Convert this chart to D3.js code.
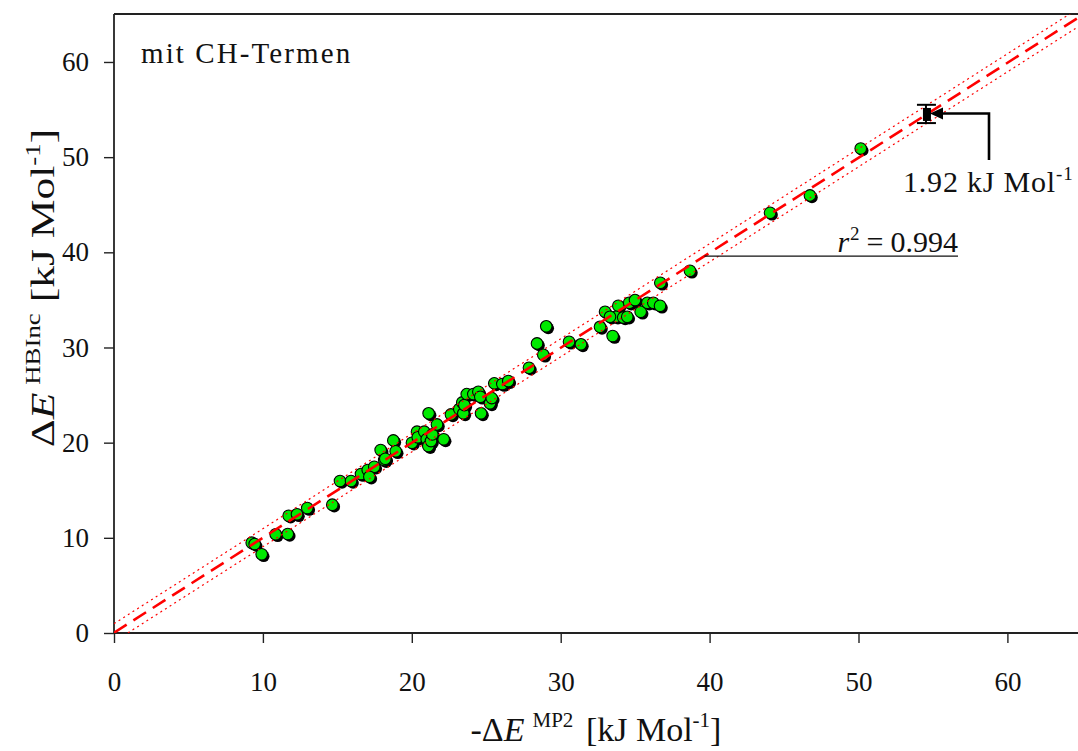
<!DOCTYPE html>
<html>
<head>
<meta charset="utf-8">
<script src="https://cdn.jsdelivr.net/npm/d3@7"></script>
<style>
  body { margin: 0; background: #fff; }
  text { font-family: "Liberation Serif", "DejaVu Serif", serif; fill: #111; }
</style>
</head>
<body>
<svg id="chart" width="1078" height="751"></svg>
<script>
// values
const mp2 = [ 9.25, 9.45, 9.92, 10.86, 11.67, 11.73, 12.29, 12.98, 14.66, 15.18,
    15.92, 16.59, 17.04, 17.48, 17.15, 18.15, 17.91, 18.22, 18.76, 18.92,
    20.01, 20.35, 20.4, 20.84, 21.0, 21.11, 21.29, 21.38, 21.13, 21.69,
    22.14, 22.63, 23.19, 23.46, 23.39, 23.53, 23.69, 24.13, 24.47, 24.6,
    25.25, 25.37, 24.65, 25.54, 26.08, 26.48, 27.87, 28.41, 28.83, 29.03,
    30.56, 31.36, 32.64, 33.49, 32.98, 33.87, 33.71, 34.2, 34.47, 34.6,
    34.99, 35.37, 35.82, 36.22, 36.67, 33.31, 36.69, 38.68, 44.06, 46.74, 50.15 ];
const hbinc = [ 9.49, 9.35, 8.27, 10.37, 10.4, 12.32, 12.47, 13.13, 13.48, 15.97,
    15.97, 16.7, 17.12, 17.47, 16.42, 18.17, 19.22, 18.31, 20.24, 19.09,
    19.99, 21.15, 20.56, 21.15, 20.35, 19.64, 20.17, 20.87, 23.08, 21.92,
    20.35, 22.97, 23.53, 23.08, 24.23, 23.95, 25.1, 25.1, 25.35, 24.82,
    24.13, 24.68, 23.08, 26.23, 26.16, 26.47, 27.87, 30.43, 29.23, 32.22,
    30.6, 30.33, 32.17, 31.2, 33.75, 34.38, 33.23, 33.16, 33.23, 34.7,
    34.98, 33.75, 34.7, 34.7, 34.38, 33.23, 36.8, 38.06, 44.15, 45.98, 50.91 ];

const xTicks = [ 0, 10, 20, 30, 40, 50, 60 ];
const yTicks = [ 0, 10, 20, 30, 40, 50, 60 ];

// fit line and its band
const fitSlope = 0.998, fitIntercept = 0.03, bandHalf = 0.95;
const fitRange = [ 0, 65 ];
const rSquared = '0.994';

// error bar example
const errX = 54.53, errY = 54.54, errHalf = 0.96;
const errLabel = '1.92 kJ Mol';

const svg = d3.select( '#chart' );
const mLeft = 114, mBottom = 633, mTop = 14;

const x = d3.scaleLinear().domain( [ 0, 65 ] ).range( [ mLeft, mLeft + 65 * 14.89 ] );
const y = d3.scaleLinear().domain( [ 0, 65 ] ).range( [ mBottom, mBottom - 65 * 9.517 ] );

svg.append( 'clipPath' ).attr( 'id', 'plot' )
    .append( 'rect' ).attr( 'x', mLeft ).attr( 'y', mTop ).attr( 'width', 1078 - mLeft ).attr( 'height', mBottom - mTop );

// axes
const xAxis = svg.append( 'g' )
    .attr( 'transform', 'translate(0,' + mBottom + ')' )
    .call( d3.axisBottom( x ).tickValues( xTicks ).tickSizeInner( 10 ).tickSizeOuter( 0 ).tickPadding( 29 ) );
const yAxis = svg.append( 'g' )
    .attr( 'transform', 'translate(' + mLeft + ',0)' )
    .call( d3.axisLeft( y ).tickValues( yTicks ).tickSizeInner( 10 ).tickSizeOuter( 0 ).tickPadding( 15 ) );

[ xAxis, yAxis ].forEach( a => {
    a.selectAll( 'text' ).style( 'font-family', '"Liberation Serif", serif' ).style( 'font-size', '27px' ).attr( 'fill', '#111' );
    a.selectAll( 'line' ).attr( 'stroke', '#222' ).attr( 'stroke-width', 1.4 );
    a.select( '.domain' ).attr( 'stroke', '#222' ).attr( 'stroke-width', 1.8 );
} );
xAxis.select( '.domain' ).attr( 'd', 'M' + mLeft + ',0H1078' );
yAxis.select( '.domain' ).attr( 'd', 'M0,' + mBottom + 'V' + mTop );

svg.append( 'line' )
    .attr( 'x1', mLeft ).attr( 'x2', 1078 ).attr( 'y1', mTop ).attr( 'y2', mTop )
    .attr( 'stroke', '#222' ).attr( 'stroke-width', 1.8 );

// points
const pts = d3.zip( mp2, hbinc );
const g = svg.append( 'g' ).attr( 'clip-path', 'url(#plot)' );

g.selectAll( '.shadow' ).data( pts ).enter().append( 'circle' )
    .attr( 'class', 'shadow' )
    .attr( 'cx', d => x( d[ 0 ] ) + 2 ).attr( 'cy', d => y( d[ 1 ] ) + 2 )
    .attr( 'r', 5.8 ).attr( 'fill', '#000' );
g.selectAll( '.pt' ).data( pts ).enter().append( 'circle' )
    .attr( 'class', 'pt' )
    .attr( 'cx', d => x( d[ 0 ] ) ).attr( 'cy', d => y( d[ 1 ] ) )
    .attr( 'r', 5.8 ).attr( 'fill', '#00ea00' ).attr( 'stroke', '#000' ).attr( 'stroke-width', 1.1 );

// regression line + band
const fitLine = d3.line().x( d => x( d[ 0 ] ) ).y( d => y( d[ 1 ] ) );
const fitPts = off => fitRange.map( v => [ v, fitSlope * v + fitIntercept + off ] );

[ bandHalf, -bandHalf ].forEach( off => {
    g.append( 'path' ).attr( 'd', fitLine( fitPts( off ) ) )
        .attr( 'fill', 'none' ).attr( 'stroke', '#ff0000' ).attr( 'stroke-width', 1.2 )
        .attr( 'stroke-dasharray', '2,3.5' );
} );
g.append( 'path' ).attr( 'd', fitLine( fitPts( 0 ) ) )
    .attr( 'fill', 'none' ).attr( 'stroke', '#ff0000' ).attr( 'stroke-width', 2.6 )
    .attr( 'stroke-dasharray', '15,8' );

// r^2 label with leader line
const rY = 39.6;
svg.append( 'line' )
    .attr( 'x1', x( ( rY - fitIntercept ) / fitSlope ) ).attr( 'x2', 958 )
    .attr( 'y1', y( rY ) ).attr( 'y2', y( rY ) )
    .attr( 'stroke', '#111' ).attr( 'stroke-width', 1.3 );
const rt = svg.append( 'text' ).attr( 'x', 958 ).attr( 'y', y( rY ) - 4 )
    .attr( 'text-anchor', 'end' ).style( 'font-size', '30px' );
rt.append( 'tspan' ).style( 'font-style', 'italic' ).text( 'r' );
rt.append( 'tspan' ).style( 'font-size', '19px' ).attr( 'dx', 1 ).attr( 'dy', -12 ).text( '2' );
rt.append( 'tspan' ).attr( 'dx', 7 ).attr( 'dy', 12 ).text( '=' );
rt.append( 'tspan' ).attr( 'dx', 7 ).text( rSquared );

// error bar
const ex = x( errX );
svg.append( 'line' ).attr( 'x1', ex ).attr( 'x2', ex )
    .attr( 'y1', y( errY + errHalf ) ).attr( 'y2', y( errY - errHalf ) )
    .attr( 'stroke', '#000' ).attr( 'stroke-width', 2 );
[ errY + errHalf, errY - errHalf ].forEach( v => {
    svg.append( 'line' ).attr( 'x1', ex - 9 ).attr( 'x2', ex + 10 )
        .attr( 'y1', y( v ) ).attr( 'y2', y( v ) )
        .attr( 'stroke', '#000' ).attr( 'stroke-width', 2 );
} );
svg.append( 'rect' ).attr( 'x', ex - 3 ).attr( 'y', y( errY ) - 6 )
    .attr( 'width', 8 ).attr( 'height', 13 ).attr( 'fill', '#000' );

// arrow to the error bar
const ay = y( errY ) - 0.5;
svg.append( 'path' )
    .attr( 'd', `M989,160V${ay}H940` )
    .attr( 'fill', 'none' ).attr( 'stroke', '#000' ).attr( 'stroke-width', 2.6 );
svg.append( 'path' )
    .attr( 'd', `M930,${ay}L943,${ay - 6}L943,${ay + 6}Z` )
    .attr( 'fill', '#000' );

const et = svg.append( 'text' ).attr( 'x', 903 ).attr( 'y', 192 )
    .style( 'font-size', '30px' ).style( 'letter-spacing', '0.8px' );
et.append( 'tspan' ).text( errLabel );
et.append( 'tspan' ).style( 'font-size', '19px' ).attr( 'dy', -12 ).text( '-1' );

// corner label
svg.append( 'text' ).attr( 'x', 141 ).attr( 'y', 63 )
    .style( 'font-size', '29px' ).style( 'letter-spacing', '2.1px' )
    .text( 'mit CH-Termen' );

// axis titles
const xt = svg.append( 'text' ).attr( 'x', 596 ).attr( 'y', 741 )
    .attr( 'text-anchor', 'middle' ).style( 'font-size', '34px' );
xt.append( 'tspan' ).text( '-Δ' );
xt.append( 'tspan' ).style( 'font-style', 'italic' ).text( 'E' );
xt.append( 'tspan' ).style( 'font-size', '21px' ).attr( 'dx', 8 ).attr( 'dy', -14 ).text( 'MP2' );
xt.append( 'tspan' ).attr( 'dx', 4 ).attr( 'dy', 14 ).text( ' [kJ Mol' );
xt.append( 'tspan' ).style( 'font-size', '21px' ).attr( 'dy', -14 ).text( '-1' );
xt.append( 'tspan' ).attr( 'dy', 14 ).text( ']' );

const yt = svg.append( 'text' ).attr( 'transform', 'translate(54,288) rotate(-90) scale(1.28,1)' )
    .attr( 'text-anchor', 'middle' ).style( 'font-size', '34px' );
yt.append( 'tspan' ).text( 'Δ' );
yt.append( 'tspan' ).style( 'font-style', 'italic' ).text( 'E' );
yt.append( 'tspan' ).style( 'font-size', '21px' ).attr( 'dx', 6 ).attr( 'dy', -14 ).text( 'HBInc' );
yt.append( 'tspan' ).attr( 'dy', 14 ).text( ' [kJ Mol' );
yt.append( 'tspan' ).style( 'font-size', '21px' ).attr( 'dy', -14 ).text( '-1' );
yt.append( 'tspan' ).attr( 'dy', 14 ).text( ']' );
</script>
</body>
</html>
